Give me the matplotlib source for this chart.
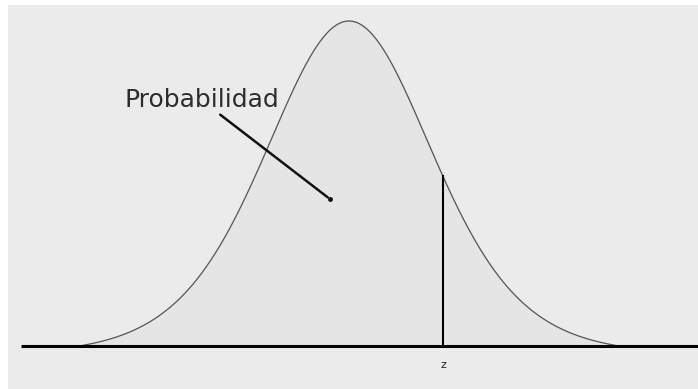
import numpy as np
import matplotlib.pyplot as plt
from matplotlib.patches import Rectangle

# bell curve as drawn (units of the curve's scale, peak = 1)
df_shape = 8
z_value = 1.093
x_range = [-3.14, 3.14]
label_text = "Probabilidad"
z_label = "z"


def bell(t):
    return (1 + t ** 2 / df_shape) ** (-(df_shape + 1) / 2)


x = np.linspace(x_range[0], x_range[1], 500)
end_val = bell(x_range[1])
y = (bell(x) - end_val) / (1 - end_val)
z_height = (bell(z_value) - end_val) / (1 - end_val)

fig = plt.figure(figsize=(6.98, 3.89), dpi=100)
fig.patch.set_facecolor("white")
ax = fig.add_axes([8 / 698, 0, 690 / 698, 384 / 389])
ax.set_xlim(-3.965, 4.058)
ax.set_ylim(-0.1323, 1.0492)
ax.axis("off")
ax.add_patch(Rectangle((0, 0), 1, 1, transform=ax.transAxes, facecolor="#ebebeb",
                       edgecolor="none", zorder=0))

ax.fill_between(x, 0, y, color="#e5e5e5", zorder=1)
ax.plot(x, y, color="#555555", lw=0.9, zorder=3)
ax.plot([-3.814, 4.1], [0, 0], color="black", lw=2.2, solid_capstyle="butt", zorder=4)
ax.plot([z_value, z_value], [0, z_height], color="black", lw=1.5, zorder=4)

ax.text(z_value, -0.058, z_label, ha="center", va="center", fontsize=8, color="#222222")
ax.text(-2.605, 0.735, label_text, ha="left", va="baseline", fontsize=18, color="#2d2d2d")
ax.annotate("", xy=(-0.221, 0.452), xytext=(-1.523, 0.717),
            arrowprops=dict(arrowstyle="-", color="#111111", lw=1.8), zorder=5)
ax.plot([-0.221], [0.452], marker="o", ms=2.5, color="#111111", zorder=5)

fig.savefig("out.png", dpi=100, facecolor="white")
